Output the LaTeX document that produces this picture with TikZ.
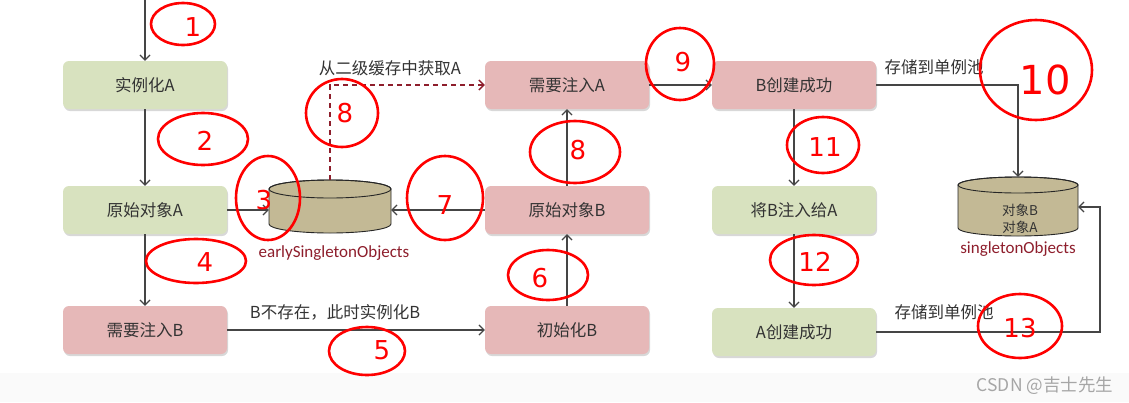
\documentclass[tikz,border=0pt]{standalone}
\usepackage{fontspec}
\setmainfont{Carlito}
\newfontfamily\cjk{Noto Sans CJK SC}
\newfontfamily\hand{DejaVu Sans}
\usetikzlibrary{arrows.meta,shadows}
\definecolor{boxg}{HTML}{D8E2BF}
\definecolor{boxp}{HTML}{E6B8B8}
\definecolor{txt}{HTML}{333333}
\definecolor{ln}{HTML}{454545}
\definecolor{cyl}{HTML}{C3B995}
\definecolor{dred}{HTML}{8E1E2C}
\definecolor{scr}{HTML}{FF0000}
\tikzset{
  box/.style={rounded corners=6pt, minimum width=164pt, minimum height=48pt, inner sep=0pt,
    text=txt, font=\cjk\fontsize{16.5}{19}\selectfont,
    drop shadow={shadow xshift=1pt, shadow yshift=-2pt, opacity=0.25, fill=black!60}},
  gbox/.style={box, fill=boxg},
  pbox/.style={box, fill=boxp},
  arr/.style={draw=ln, line width=1.2pt, -{Straight Barb[length=5pt,width=10pt]}},
  darr/.style={draw=dred, line width=1.3pt, dashed, dash pattern=on 5pt off 4pt, -{Straight Barb[length=5pt,width=10pt]}},
  lbl/.style={text=txt, font=\cjk\fontsize{16.5}{19}\selectfont, inner sep=0pt},
  clbl/.style={text=dred, font=\fontsize{17}{19}\selectfont, inner sep=0pt},
  scrib/.style={draw=scr, line width=2.6pt},
  num/.style={text=scr, font=\hand\fontsize{26}{28}\selectfont, inner sep=0pt},
}
\begin{document}
\begin{tikzpicture}[x=1pt, y=-1pt]
\useasboundingbox (0,0) rectangle (1129,402);
\fill[white] (0,0) rectangle (1129,402);
\fill[black!2] (0,373) rectangle (1129,402);

% boxes
\node[gbox] (iA) at (145,85) {实例化A};
\node[gbox] (oA) at (145,210) {原始对象A};
\node[pbox] (nB) at (145,330) {需要注入B};
\node[pbox] (nA) at (567,85) {需要注入A};
\node[pbox] (oB) at (567,210) {原始对象B};
\node[pbox] (initB) at (567,330) {初始化B};
\node[pbox] (Bok) at (794,85) {B创建成功};
\node[gbox] (inj) at (794,210) {将B注入给A};
\node[gbox] (Aok) at (794,332) {A创建成功};
\coordinate (start) at (145,0);

% early cylinder
\node[minimum width=122pt, minimum height=60pt, inner sep=0pt] (early) at (330,210) {};
\filldraw[fill=cyl, draw=black!85, line width=0.9pt] (269,189) -- (269,224) arc[start angle=180, end angle=360, x radius=61pt, y radius=9pt] -- (391,189) arc[start angle=0, end angle=180, x radius=61pt, y radius=9pt] -- cycle;
\draw[black!85, line width=0.9pt] (330,189) ellipse[x radius=61pt, y radius=9pt];
\node[clbl] (earlyl) at (334,253) {earlySingletonObjects};

% singleton cylinder
\node[minimum width=120pt, minimum height=60pt, inner sep=0pt] (sing) at (1018,207) {};
\filldraw[fill=cyl, draw=black!85, line width=0.9pt] (958,185) -- (958,228) arc[start angle=180, end angle=360, x radius=60pt, y radius=8pt] -- (1078,185) arc[start angle=0, end angle=180, x radius=60pt, y radius=8pt] -- cycle;
\draw[black!85, line width=0.9pt] (1018,185) ellipse[x radius=60pt, y radius=8pt];
\node[text=txt, font=\cjk\fontsize{13.5}{15}\selectfont, inner sep=0pt] (sB) at (1020,210) {对象B};
\node[text=txt, font=\cjk\fontsize{13.5}{15}\selectfont, inner sep=0pt] (sA) at (1020,227) {对象A};
\node[clbl] (singl) at (1018,249) {singletonObjects};

% connectors
\draw[arr] (start) -- (iA);
\draw[arr] (iA) -- (oA);
\draw[arr] (oA) -- (early.west);
\draw[arr] (oA) -- (nB);
\draw[arr] (nB) -- (initB);
\node[lbl] (l1) at (335,312) {B不存在，此时实例化B};
\draw[arr] (initB) -- (oB);
\draw[arr] (oB) -- (early.east);
\draw[arr] (oB) -- (nA);
\draw[darr] (early.north) |- (nA.west);
\node[lbl] (l2) at (390,68) {从二级缓存中获取A};
\draw[arr] (nA) -- (Bok);
\draw[arr] (Bok) -- (inj);
\draw[arr] (inj) -- (Aok);
\draw[arr] (Bok.east) -| (sing.north);
\node[lbl] (l3) at (934,67) {存储到单例池};
\coordinate (cr) at (1100,207);
\draw[arr] (Aok.east) -| (cr) -- (sing.east);
\node[lbl] (l4) at (944,312) {存储到单例池};

% watermark
\node[text=black!35, font=\cjk\fontsize{17.5}{19}\selectfont, inner sep=0pt] (wm) at (1045,386) {CSDN @吉士先生};

% red scribbles
\draw[scrib] (183,24) ellipse[x radius=32pt, y radius=21pt];
\node[num] (n1) at (193,27) {1};
\draw[scrib] (203,139) ellipse[x radius=45pt, y radius=26pt];
\node[num] (n2) at (205,141) {2};
\draw[scrib] (268,198) ellipse[x radius=32pt, y radius=42pt];
\node[num] (n3) at (264,200) {3};
\draw[scrib] (196,261) ellipse[x radius=50pt, y radius=22pt];
\node[num] (n4) at (205,262) {4};
\draw[scrib] (367,351) ellipse[x radius=38pt, y radius=24pt];
\node[num] (n5) at (382,350) {5};
\draw[scrib] (548,275) ellipse[x radius=40pt, y radius=25pt];
\node[num] (n6) at (540,278) {6};
\draw[scrib] (445,198) ellipse[x radius=38pt, y radius=42pt];
\node[num] (n7) at (445,205) {7};
\draw[scrib] (342,113) ellipse[x radius=36pt, y radius=34pt];
\node[num] (n8) at (345,113) {8};
\draw[scrib] (575,152) ellipse[x radius=45pt, y radius=31pt];
\node[num] (n8b) at (578,150) {8};
\draw[scrib] (680,64) ellipse[x radius=34pt, y radius=36pt];
\node[num] (n9) at (683,62) {9};
\draw[scrib] (1036,70) ellipse[x radius=56pt, y radius=50pt];
\node[num, font=\hand\fontsize{40}{42}\selectfont] (n10) at (1045,80) {10};
\draw[scrib] (823,145) ellipse[x radius=36pt, y radius=28pt];
\node[num] (n11) at (825,147) {11};
\draw[scrib] (814,260) ellipse[x radius=44pt, y radius=25pt];
\node[num] (n12) at (815,262) {12};
\draw[scrib] (1020,326) ellipse[x radius=42pt, y radius=32pt];
\node[num] (n13) at (1020,328) {13};
\end{tikzpicture}
\end{document}
